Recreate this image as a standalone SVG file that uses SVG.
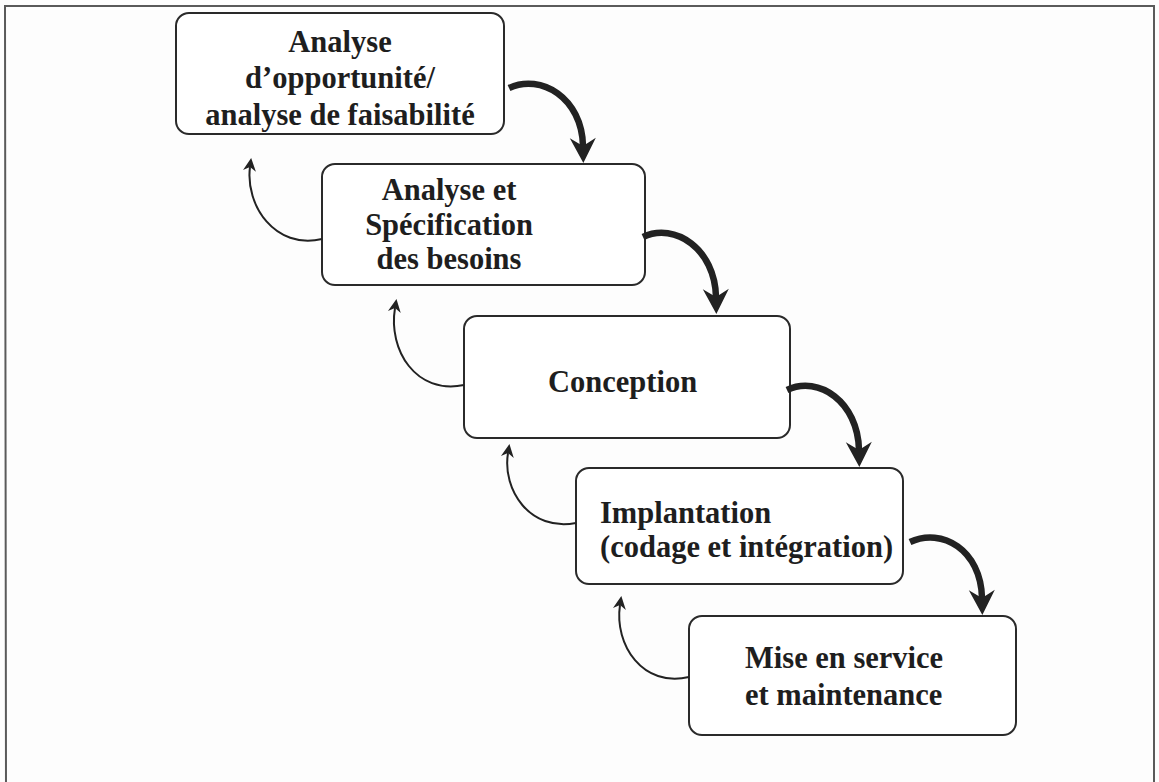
<svg xmlns="http://www.w3.org/2000/svg" width="1159" height="782" viewBox="0 0 1159 782">
  <style>
    .box { fill: #ffffff; stroke: #2a2a2a; stroke-width: 2; }
    .label { font-family: "Liberation Serif", "Times New Roman", serif; font-weight: bold; font-size: 30.5px; fill: #1e1e1e; }
    .mid { text-anchor: middle; }
    .fwd { fill: none; stroke: #222222; stroke-width: 6.5; stroke-linecap: butt; }
    .back { fill: none; stroke: #222222; stroke-width: 2; }
    .frame { fill: none; stroke: #5a5a5a; stroke-width: 2; }
  </style>
  <defs>
    <!-- barbed head for the thick forward arrows -->
    <marker id="headBold" markerUnits="userSpaceOnUse" viewBox="-2 -16 32 32" markerWidth="32" markerHeight="32" refX="8" refY="0" orient="auto">
      <path d="M0,-13 L25,0 L0,13 L8,0 Z" fill="#222222"/>
    </marker>
    <!-- small barbed head for the thin feedback arrows -->
    <marker id="headThin" markerUnits="userSpaceOnUse" viewBox="-2 -9 18 18" markerWidth="18" markerHeight="18" refX="4" refY="0" orient="auto">
      <path d="M0,-6.5 L13,0 L0,6.5 L4,0 Z" fill="#222222"/>
    </marker>
  </defs>

  <rect x="0" y="0" width="1159" height="782" fill="#fdfdfd"/>

  <!-- outer frame (bottom edge runs off the page) -->
  <path class="frame" d="M6,790 L5,6 L1154,6 L1154,790"/>

  <!-- phases -->
  <g id="phase-opportunite">
    <rect class="box" x="176" y="13" width="328" height="121" rx="13"/>
    <text class="label mid" x="340" y="52">Analyse</text>
    <text class="label mid" x="340" y="88">d’opportunité/</text>
    <text class="label mid" x="340" y="125">analyse de faisabilité</text>
  </g>

  <g id="phase-specification">
    <rect class="box" x="322" y="164" width="323" height="121" rx="13"/>
    <text class="label mid" x="449" y="200">Analyse et</text>
    <text class="label mid" x="449" y="235">Spécification</text>
    <text class="label mid" x="449" y="269">des besoins</text>
  </g>

  <g id="phase-conception">
    <rect class="box" x="464" y="316" width="326" height="122" rx="13"/>
    <text class="label" x="548" y="392">Conception</text>
  </g>

  <g id="phase-implantation">
    <rect class="box" x="576" y="468" width="327" height="116" rx="13"/>
    <text class="label" x="600" y="523">Implantation</text>
    <text class="label" x="600" y="557">(codage et intégration)</text>
  </g>

  <g id="phase-maintenance">
    <rect class="box" x="689" y="616" width="327" height="119" rx="13"/>
    <text class="label" x="745" y="668">Mise en service</text>
    <text class="label" x="745" y="705">et maintenance</text>
  </g>

  <!-- connectors: thick arrows go down the cascade, thin ones loop back -->
  <g id="connectors">
    <path class="fwd" d="M509,88 C541,73 582,98 583,146" marker-end="url(#headBold)"/>
    <path class="fwd" d="M643,237 C675,222 715,249 716,297" marker-end="url(#headBold)"/>
    <path class="fwd" d="M787,390 C819,375 858,402 859,450" marker-end="url(#headBold)"/>
    <path class="fwd" d="M910,542 C942,527 981,550 982,598" marker-end="url(#headBold)"/>

    <path class="back" d="M322,239 C275,250 245,205 250,167" marker-end="url(#headThin)"/>
    <path class="back" d="M464,385 C416,395 388,350 395,308" marker-end="url(#headThin)"/>
    <path class="back" d="M576,523 C530,532 502,490 508,453" marker-end="url(#headThin)"/>
    <path class="back" d="M689,677 C643,688 614,645 620,605" marker-end="url(#headThin)"/>
  </g>
</svg>
